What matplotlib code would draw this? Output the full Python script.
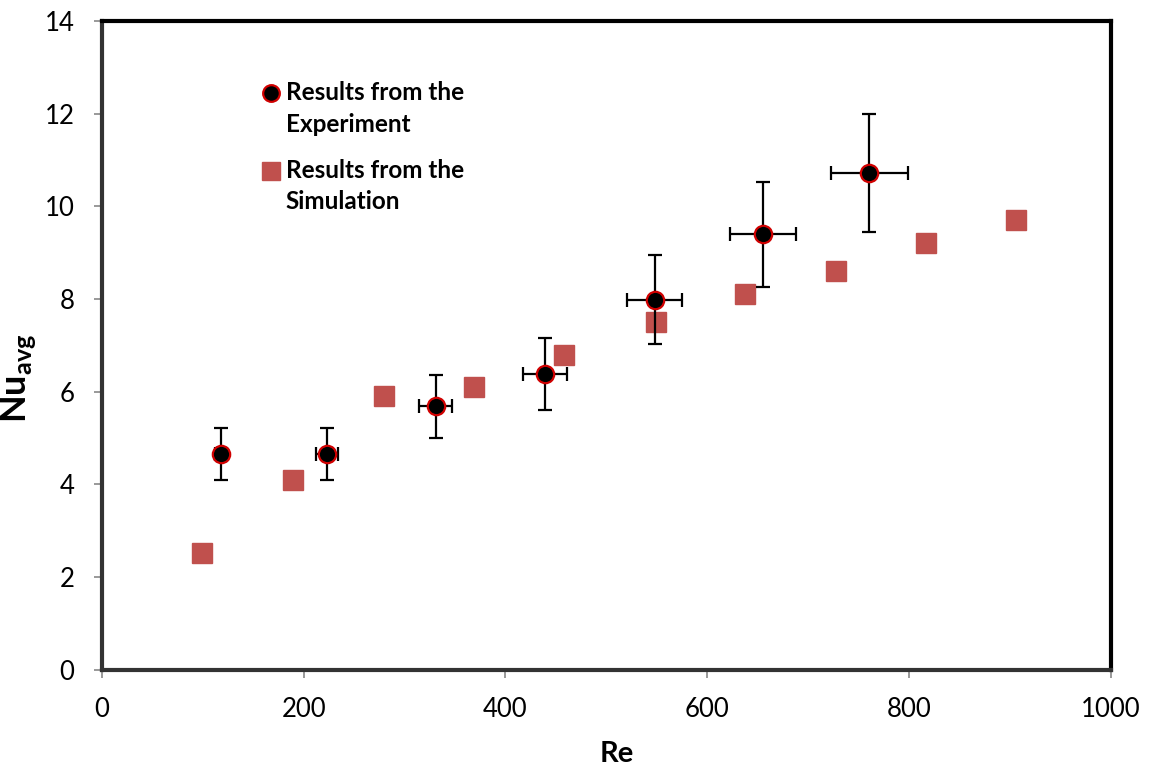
import matplotlib.pyplot as plt
from matplotlib.lines import Line2D

plt.rcParams['font.family'] = ['Lato', 'DejaVu Sans']
plt.rcParams['mathtext.fontset'] = 'custom'
plt.rcParams['mathtext.rm'] = 'Lato:style=normal'
plt.rcParams['mathtext.bf'] = 'Lato:style=normal:weight=bold'

# experiment (with error bars)
exp_re = [118, 223, 331, 439, 548, 655, 761]
exp_nu = [4.65, 4.66, 5.69, 6.38, 7.98, 9.40, 10.72]
exp_re_err = [5.9, 11.2, 16.5, 22.0, 27.4, 32.7, 38.1]
exp_nu_err = [0.56, 0.56, 0.68, 0.77, 0.96, 1.13, 1.28]

# simulation
sim_re = [99, 189, 280, 369, 458, 549, 638, 728, 817, 906]
sim_nu = [2.51, 4.10, 5.91, 6.11, 6.79, 7.51, 8.10, 8.61, 9.20, 9.71]

fig = plt.figure(figsize=(11.49, 7.69), dpi=100)
ax = fig.add_axes([0.0888, 0.1291, 0.8777, 0.8436])

sim_color = '#C0504D'
ax.plot(sim_re, sim_nu, linestyle='none', marker='s', markersize=14.5,
        color=sim_color, markeredgecolor=sim_color, zorder=3)
ax.errorbar(exp_re, exp_nu, xerr=exp_re_err, yerr=exp_nu_err, fmt='none',
            ecolor='black', elinewidth=1.6, capsize=5, capthick=1.6, zorder=4)
ax.plot(exp_re, exp_nu, linestyle='none', marker='o', markersize=12.5,
        markerfacecolor='black', markeredgecolor='#D00000', markeredgewidth=1.6,
        zorder=5)

ax.set_xlim(0, 1000)
ax.set_ylim(0, 14)
ax.set_xticks(range(0, 1001, 200))
ax.set_yticks(range(0, 15, 2))
ax.tick_params(axis='both', direction='out', length=6, width=1.2,
               color='#888888', labelsize=18.5)
ax.tick_params(axis='x', pad=14)
ax.tick_params(axis='y', pad=14)

for side in ['top', 'right']:
    ax.spines[side].set_linewidth(3)
    ax.spines[side].set_color('black')
for side in ['left', 'bottom']:
    ax.spines[side].set_linewidth(3)
    ax.spines[side].set_color('#333333')

ax.set_xlabel('Re', fontsize=21, fontweight='bold')
ax.xaxis.set_label_coords(0.51, -0.11)
ax.set_ylabel(r'$\mathbf{Nu}_{\mathbf{avg}}$', fontsize=26)
ax.yaxis.set_label_coords(-0.063, 0.45)

handles = [
    Line2D([], [], linestyle='none', marker='o', markersize=12,
           markerfacecolor='black', markeredgecolor='#D00000',
           markeredgewidth=1.6),
    Line2D([], [], linestyle='none', marker='s', markersize=13,
           color=sim_color),
]
labels = ['Results from the\nExperiment', 'Results from the\nSimulation']
leg = ax.legend(handles, labels, loc='upper left',
                bbox_to_anchor=(0.135, 0.941), frameon=False,
                handlelength=0.9, handletextpad=0.15, labelspacing=0.95,
                prop={'size': 17.5, 'weight': 'bold'})
for t in leg.get_texts():
    t.set_linespacing(1.45)
# put the key marker next to the first text line
for h in leg.legend_handles:
    h.set_ydata([y + 11.5 for y in h.get_ydata()])

fig.savefig('out.png', dpi=100)
